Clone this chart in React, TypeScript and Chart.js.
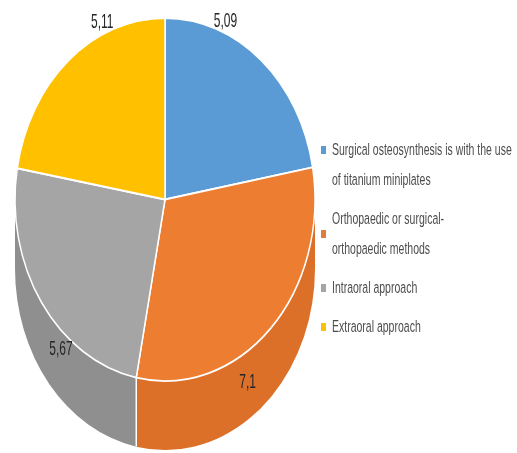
import React, { useEffect, useRef } from "react";
import { Chart, registerables } from "chart.js";

Chart.register(...registerables);

// ---- data ----
const categories = [
  "Surgical osteosynthesis is with the use of titanium miniplates",
  "Orthopaedic or surgical-orthopaedic methods",
  "Intraoral approach",
  "Extraoral approach",
];
const legendLines = [
  ["Surgical osteosynthesis is with the use", "of titanium miniplates"],
  ["Orthopaedic or surgical-", "orthopaedic methods"],
  ["Intraoral approach"],
  ["Extraoral approach"],
];
const values = [5.09, 7.1, 5.67, 5.11];
const valueLabels = ["5,09", "7,1", "5,67", "5,11"];

// ---- styles ----
const topColors = ["#5b9bd5", "#ed7d31", "#a5a5a5", "#ffc000"];
const sideColors = ["#4a85bd", "#dc7029", "#8f8f8f", "#e0a800"];
const legendSwatch = ["#5b9bd5", "#e07b3a", "#a5a5a5", "#ffc000"];

// label placement relative to each slice (fraction of slice angle, radius factor, drop into side)
const labelAngleFrac = [0.28, 0.6, 0.37, 0.71];
const labelRadius = [1.06, 1.0, 1.0, 1.06];
const labelDrop = [0, 0.45, 0.27, 0];

const TILT = 1.21; // vertical stretch of the top face
const DEPTH = 69; // thickness of the pie side
const FONT = "'Liberation Sans', Arial, sans-serif";

const legendLayout = { x: 321, textX: 332, firstY: 150, lineH: 30, gap: 39 };

function stretchedText(ctx: CanvasRenderingContext2D, text: string, x: number, y: number, size: number, stretch: number, color: string, align: CanvasTextAlign) {
  ctx.save();
  ctx.translate(x, y);
  ctx.scale(1, stretch);
  ctx.font = `${size}px ${FONT}`;
  ctx.fillStyle = color;
  ctx.textAlign = align;
  ctx.textBaseline = "middle";
  ctx.fillText(text, 0, 0);
  ctx.restore();
}

const pie3d = {
  id: "pie3d",
  beforeDatasetsDraw(chart: any) {
    const ctx: CanvasRenderingContext2D = chart.ctx;
    const arcs = chart.getDatasetMeta(0).data;
    if (!arcs.length) return;
    const cx = arcs[0].x, cy = arcs[0].y, R = arcs[0].outerRadius;
    const rx = R, ry = R * TILT;
    arcs.forEach((arc: any, i: number) => {
      const a0 = Math.max(arc.startAngle, 0);
      const a1 = Math.min(arc.endAngle, Math.PI);
      if (a1 <= a0) return;
      ctx.save();
      ctx.beginPath();
      ctx.ellipse(cx, cy, rx, ry, 0, a0, a1, false);
      ctx.lineTo(cx + rx * Math.cos(a1), cy + ry * Math.sin(a1) + DEPTH);
      ctx.ellipse(cx, cy + DEPTH, rx, ry, 0, a1, a0, true);
      ctx.closePath();
      ctx.fillStyle = sideColors[i];
      ctx.fill();
      ctx.restore();
    });
    arcs.forEach((arc: any) => {
      const a = arc.startAngle;
      if (a > 0 && a < Math.PI) {
        const x = cx + rx * Math.cos(a);
        const y = cy + ry * Math.sin(a);
        ctx.save();
        ctx.strokeStyle = "#ffffff";
        ctx.lineWidth = 1.5;
        ctx.beginPath();
        ctx.moveTo(x, y);
        ctx.lineTo(x, y + DEPTH);
        ctx.stroke();
        ctx.restore();
      }
    });
    ctx.save();
    ctx.translate(0, cy);
    ctx.scale(1, TILT);
    ctx.translate(0, -cy);
  },
  afterDatasetsDraw(chart: any) {
    const ctx: CanvasRenderingContext2D = chart.ctx;
    ctx.restore();
    const arcs = chart.getDatasetMeta(0).data;
    if (!arcs.length) return;
    const cx = arcs[0].x, cy = arcs[0].y, R = arcs[0].outerRadius;
    const rx = R, ry = R * TILT;
    arcs.forEach((arc: any, i: number) => {
      const t = arc.startAngle + labelAngleFrac[i] * (arc.endAngle - arc.startAngle);
      const x = cx + rx * labelRadius[i] * Math.cos(t);
      const y = cy + ry * labelRadius[i] * Math.sin(t) + DEPTH * labelDrop[i];
      stretchedText(ctx, valueLabels[i], x, y, 12, 1.75, "#262626", "center");
    });
  },
  afterDraw(chart: any) {
    const ctx: CanvasRenderingContext2D = chart.ctx;
    let y = legendLayout.firstY;
    legendLines.forEach((lines, i) => {
      const n = lines.length;
      const boxY = i === 0 ? y : y + ((n - 1) * legendLayout.lineH) / 2;
      ctx.fillStyle = legendSwatch[i];
      ctx.fillRect(legendLayout.x, boxY - 4, 5, 8);
      lines.forEach((line, j) => {
        stretchedText(ctx, line, legendLayout.textX, y + j * legendLayout.lineH, 10.5, 1.6, "#4d4d4d", "left");
      });
      y += (n - 1) * legendLayout.lineH + legendLayout.gap;
    });
  },
};

export default function App() {
  const ref = useRef<HTMLCanvasElement>(null);
  useEffect(() => {
    if (!ref.current) return;
    const chart = new Chart(ref.current, {
      type: "pie",
      data: {
        labels: categories,
        datasets: [
          {
            data: values,
            backgroundColor: topColors,
            borderColor: "#ffffff",
            borderWidth: 1.5,
            clip: false,
          } as any,
        ],
      },
      options: {
        animation: false,
        responsive: false,
        devicePixelRatio: 1,
        layout: { padding: { left: 14.25, right: 201.25, top: 39.5, bottom: 93.5 } },
        plugins: { legend: { display: false }, tooltip: { enabled: false } },
      },
      plugins: [pie3d],
    });
    return () => chart.destroy();
  }, []);
  return (
    <div style={{ position: "absolute", left: 0, top: 0, width: 517, height: 453, background: "#fff" }}>
      <canvas ref={ref} width={517} height={453} />
    </div>
  );
}
